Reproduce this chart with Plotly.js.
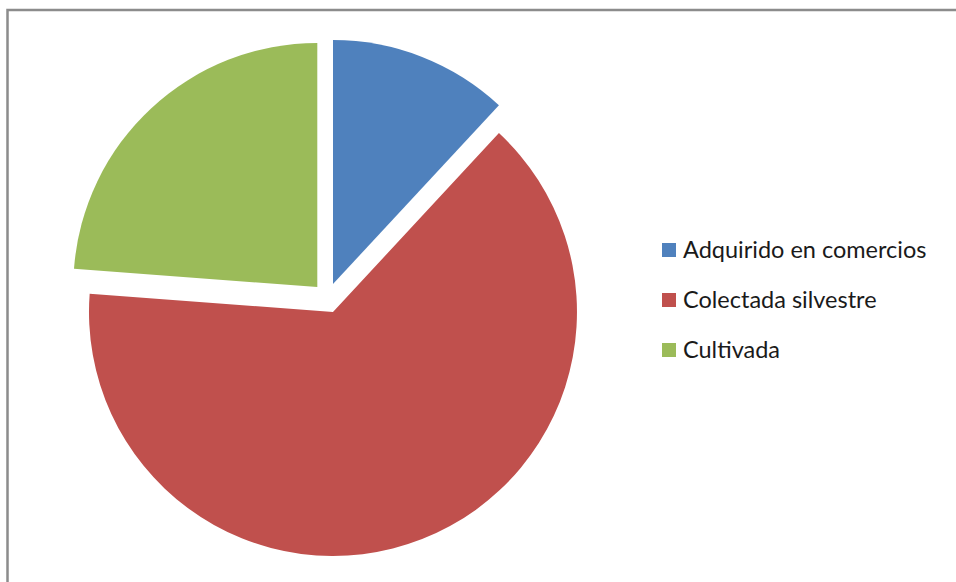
<!DOCTYPE html>
<html>
<head>
<meta charset="utf-8">
<script src="https://cdn.plot.ly/plotly-3.0.1.min.js"></script>
<style>
  html, body { margin: 0; padding: 0; background: #ffffff; }
  #chart { width: 956px; height: 582px; }
</style>
</head>
<body>
<div id="chart"></div>
<script>
var categories = ["Adquirido en comercios", "Colectada silvestre", "Cultivada"];
var values = [5, 27, 10];
var colors = ["#4F81BD", "#C0504D", "#9BBB59"];

var W = 956, H = 582;
function px(x) { return x / W; }
function py(y) { return 1 - y / H; }

var trace = {
  type: "pie",
  labels: categories,
  values: values,
  sort: false,
  direction: "clockwise",
  rotation: 0,
  pull: [0.0615, 0.0615, 0.0615],
  marker: { colors: colors, line: { width: 0 } },
  textinfo: "none",
  hoverinfo: "label+value+percent",
  showlegend: false,
  domain: { x: [px(68.5), px(586.5)], y: [py(557), py(39)] }
};

var shapes = [{
  type: "rect", xref: "paper", yref: "paper",
  x0: px(7.5), x1: px(1200), y0: py(1200), y1: py(10),
  line: { color: "#8c8c8c", width: 2.5 }, fillcolor: "rgba(0,0,0,0)"
}];
var annotations = [];
var rowY = [250, 300, 350];
for (var i = 0; i < categories.length; i++) {
  shapes.push({
    type: "rect", xref: "paper", yref: "paper",
    x0: px(662), x1: px(676), y0: py(rowY[i] + 7), y1: py(rowY[i] - 7),
    line: { width: 0 }, fillcolor: colors[i]
  });
  annotations.push({
    xref: "paper", yref: "paper",
    x: px(681), y: py(rowY[i] - 1),
    xanchor: "left", yanchor: "middle",
    text: categories[i], showarrow: false,
    font: { family: "Lato, 'Open Sans', sans-serif", size: 23.5, color: "#1a1a1a" }
  });
}

var layout = {
  width: W, height: H,
  margin: { l: 0, r: 0, t: 0, b: 0 },
  paper_bgcolor: "#ffffff",
  showlegend: false,
  shapes: shapes,
  annotations: annotations
};

Plotly.newPlot("chart", [trace], layout, { displayModeBar: false });
</script>
</body>
</html>
